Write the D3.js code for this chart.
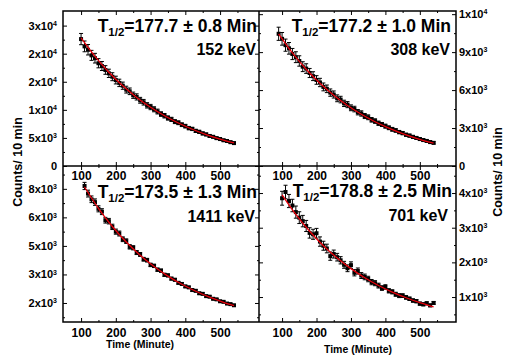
<!DOCTYPE html>
<html>
<head>
<meta charset="utf-8">
<script src="https://cdn.jsdelivr.net/npm/d3@7"></script>
<style>
  body { margin: 0; background: #fff; }
  text { font-family: Arial, "Liberation Sans", sans-serif; font-weight: bold; fill: #000; }
</style>
</head>
<body>
<div id="chart"></div>
<script>
// ---- data ----
// top left: 152 keV
const timesTL = [100,110,120,130,140,150,160,170,180,190,200,210,220,230,240,250,260,270,280,290,300,310,320,330,340,350,360,370,380,390,400,410,420,430,440,450,460,470,480,490,500,510,520,530,540];
const countsTL = [22600,21300,20700,19700,19200,18300,17800,17100,16500,15900,15300,14800,14300,13600,13300,12600,12300,11700,11350,10800,10500,10100,9700,9250,8950,8550,8300,7900,7700,7350,7100,6750,6600,6250,6080,5800,5620,5350,5200,4960,4800,4580,4450,4240,4080];
const errTL = [1000,960,930,890,860,820,800,770,740,710,690,660,640,610,590,560,550,520,500,480,470,450,430,410,400,380,370,350,340,330,320,300,290,280,270,260,250,240,230,220,210,200,200,190,180];
const fitTimesTL = [100,140,180,220,260,300,340,380,420,460,500,540];
const fitTL = [22800,19506,16689,14278,12216,10452,8942,7650,6545,5600,4791,4099];

// top right: 308 keV
const timesTR = [90,100,110,120,130,140,150,160,170,180,190,200,210,220,230,240,250,260,270,280,290,300,310,320,330,340,350,360,370,380,390,400,410,420,430,440,450,460,470,480,490,500,510,520,530,540];
const countsTR = [10450,10050,9550,9300,8850,8600,8300,7850,7700,7350,7100,6800,6600,6250,6100,5800,5650,5350,5250,4950,4850,4600,4500,4250,4150,3950,3850,3650,3550,3380,3280,3150,3020,2900,2810,2680,2600,2470,2400,2300,2220,2130,2050,1980,1890,1830];
const errTR = [520,500,480,460,440,430,410,390,380,360,350,340,330,310,300,290,280,270,260,250,240,230,220,210,210,200,190,180,180,170,160,160,150,150,140,130,130,120,120,120,110,110,100,100,100,90];
const fitTimesTR = [90,130,170,210,250,290,330,370,410,450,490,540];
const fitTR = [10450,8937,7643,6536,5590,4780,4088,3496,2990,2557,2187,1799];

// bottom left: 1411 keV
const timesBL = [110,120,130,140,150,160,170,180,190,200,210,220,230,240,250,260,270,280,290,300,310,320,330,340,350,360,370,380,390,400,410,420,430,440,450,460,470,480,490,500,510,520,530,540];
const countsBL = [7650,7250,6950,6800,6450,6300,5850,5800,5500,5250,5150,4850,4750,4450,4400,4150,4050,3800,3750,3500,3450,3250,3200,2980,2950,2780,2720,2560,2500,2370,2320,2180,2140,2010,1980,1860,1830,1720,1690,1590,1560,1470,1440,1380];
const errBL = [190,180,175,170,160,155,150,145,140,135,130,125,120,115,110,105,100,98,95,90,88,85,82,79,76,73,70,68,66,63,61,59,57,55,53,52,50,48,47,45,44,43,41,40];
const fitTimesBL = [110,150,190,230,270,310,350,390,430,470,510,540];
const fitBL = [7600,6477,5521,4705,4011,3418,2913,2483,2116,1804,1537,1364];

// bottom right: 701 keV
const timesBR = [100,110,120,130,140,150,160,170,180,190,200,210,220,230,240,250,260,270,280,290,300,310,320,330,340,350,360,370,380,390,400,410,420,430,440,450,460,470,480,490,500,510,520,530,540];
const countsBR = [3850,4030,3770,3640,3450,3290,3190,3050,2850,2810,2840,2600,2480,2400,2180,2240,2150,2060,1930,1830,1920,1700,1750,1620,1580,1520,1430,1400,1330,1260,1290,1180,1150,1080,1040,1040,990,950,900,880,810,790,820,760,830];
const errBR = [200,195,190,180,175,170,165,160,150,145,140,135,130,125,120,115,110,105,100,98,95,90,88,85,82,79,76,73,70,67,65,62,60,58,56,54,52,50,48,46,45,43,42,40,38];
const fitTimesBR = [100,140,180,220,260,300,340,380,420,460,500,540];
const fitBR = [3950,3383,2897,2481,2124,1819,1558,1334,1143,979,838,718];

// axis ticks
const xTicks = [100,200,300,400,500];
const xMinor = [150,250,350,450,550];
const yTicksTL = [0,5000,10000,15000,20000,25000];
const yMantTL = ["0","5","1","2","2","3"];
const yExpTL = ["","3","4","4","4","4"];
const yMinorTL = [2500,7500,12500,17500,22500];
const yTicksTR = [0,3000,6000,9000,12000];
const yMantTR = ["0","3","6","9","1"];
const yExpTR = ["","3","3","3","4"];
const yMinorTR = [1500,4500,7500,10500];
const yTicksBL = [1500,3000,4500,6000,7500];
const yMantBL = ["2","3","5","6","8"];
const yExpBL = ["3","3","3","3","3"];
const yMinorBL = [750,2250,3750,5250,6750,8250];
const yTicksBR = [1000,2000,3000,4000];
const yMantBR = ["1","2","3","4"];
const yExpBR = ["3","3","3","3"];
const yMinorBR = [500,1500,2500,3500,4500];

const halfLives = ["177.7 \u00b1 0.8", "177.2 \u00b1 1.0", "173.5 \u00b1 1.3", "178.8 \u00b1 2.5"];
const energies = ["152 keV", "308 keV", "1411 keV", "701 keV"];

// ---- layout ----
const W = 505, H = 362;
const X0 = 63, XM = 259, X1 = 456, Y0 = 11, YM = 166, Y1 = 322;

const svg = d3.select("#chart").append("svg")
  .attr("width", W).attr("height", H);

const panels = [
  { xr: [X0, XM], yr: [YM, Y0], xd: [48, 612], yd: [0, 27600], t: timesTL, n: countsTL, e: errTL, ft: fitTimesTL, fn: fitTL,
    yt: yTicksTL, ym: yMantTL, ye: yExpTL, yMin: yMinorTL, side: "left", xPad: 5, txtX: 257, txtY: 32, txtX2: 256, txtY2: 55 },
  { xr: [XM, X1], yr: [YM, Y0], xd: [33, 605], yd: [0, 12250], t: timesTR, n: countsTR, e: errTR, ft: fitTimesTR, fn: fitTR,
    yt: yTicksTR, ym: yMantTR, ye: yExpTR, yMin: yMinorTR, side: "right", xPad: 5, txtX: 451, txtY: 32, txtX2: 450, txtY2: 55 },
  { xr: [X0, XM], yr: [Y1, YM], xd: [48, 612], yd: [500, 8700], t: timesBL, n: countsBL, e: errBL, ft: fitTimesBL, fn: fitBL,
    yt: yTicksBL, ym: yMantBL, ye: yExpBL, yMin: yMinorBL, side: "left", xPad: 6, txtX: 257, txtY: 198, txtX2: 255, txtY2: 222 },
  { xr: [XM, X1], yr: [Y1, YM], xd: [33, 605], yd: [280, 4780], t: timesBR, n: countsBR, e: errBR, ft: fitTimesBR, fn: fitBR,
    yt: yTicksBR, ym: yMantBR, ye: yExpBR, yMin: yMinorBR, side: "right", xPad: 6, txtX: 452, txtY: 197, txtX2: 448, txtY2: 221 }
];

panels.forEach((p, k) => {
  const x = d3.scaleLinear().domain(p.xd).range(p.xr);
  const y = d3.scaleLinear().domain(p.yd).range(p.yr);
  const g = svg.append("g");

  // axes: bottom (labelled), top (ticks only)
  const bottom = g.append("g").attr("transform", `translate(0,${p.yr[0]})`);
  bottom.call(d3.axisBottom(x).tickValues(xTicks).tickSize(-4).tickPadding(p.xPad));
  bottom.append("g").call(d3.axisBottom(x).tickValues(xMinor).tickSize(-2).tickFormat(""));
  const top = g.append("g").attr("transform", `translate(0,${p.yr[1]})`);
  top.call(d3.axisTop(x).tickValues(xTicks).tickSize(-4).tickFormat(""));
  top.append("g").call(d3.axisTop(x).tickValues(xMinor).tickSize(-2).tickFormat(""));

  // y axes: labelled on the outer side, mirror ticks on the inner side
  const outerX = p.side === "left" ? p.xr[0] : p.xr[1];
  const innerX = p.side === "left" ? p.xr[1] : p.xr[0];
  const axOuter = p.side === "left" ? d3.axisLeft : d3.axisRight;
  const axInner = p.side === "left" ? d3.axisRight : d3.axisLeft;

  const yl = g.append("g").attr("transform", `translate(${outerX},0)`);
  yl.call(axOuter(y).tickValues(p.yt).tickSize(-4).tickPadding(p.side === "left" ? 6 : 3));
  yl.append("g").call(axOuter(y).tickValues(p.yMin).tickSize(-2).tickFormat(""));
  yl.selectAll(".tick text").each(function (d, i) {
    const t = d3.select(this).text(null).attr("font-size", 11);
    t.append("tspan").text(p.ye[i] ? p.ym[i] + "x10" : p.ym[i]);
    if (p.ye[i]) t.append("tspan").attr("dy", "-0.55em").attr("font-size", 7).text(p.ye[i]);
  });
  const yi = g.append("g").attr("transform", `translate(${innerX},0)`);
  yi.call(axInner(y).tickValues(p.yt).tickSize(-4).tickFormat(""));
  yi.append("g").call(axInner(y).tickValues(p.yMin).tickSize(-2).tickFormat(""));

  g.selectAll(".domain").remove();
  g.selectAll(".tick line").attr("stroke", "#000").attr("stroke-width", 1);
  bottom.selectAll(".tick text").attr("font-size", 12);

  // error bars
  const eb = g.append("g").attr("stroke", "#000").attr("stroke-width", 1);
  p.t.forEach((t, i) => {
    const cx = x(t), yHi = y(p.n[i] + p.e[i]), yLo = y(p.n[i] - p.e[i]);
    eb.append("line").attr("x1", cx).attr("x2", cx).attr("y1", yHi).attr("y2", yLo);
    eb.append("line").attr("x1", cx - 2).attr("x2", cx + 2).attr("y1", yHi).attr("y2", yHi);
    eb.append("line").attr("x1", cx - 2).attr("x2", cx + 2).attr("y1", yLo).attr("y2", yLo);
  });

  // points
  g.append("g").selectAll("rect")
    .data(p.t)
    .join("rect")
    .attr("x", (d) => x(d) - 2)
    .attr("y", (d, i) => y(p.n[i]) - 2)
    .attr("width", 4)
    .attr("height", 4)
    .attr("fill", "#000");

  // fit
  const line = d3.line()
    .x((d) => x(d))
    .y((d, i) => y(p.fn[i]))
    .curve(d3.curveMonotoneX);
  g.append("path")
    .attr("d", line(p.ft))
    .attr("fill", "none")
    .attr("stroke", "#e8000b")
    .attr("stroke-width", 1.3);

  // annotation
  const a = g.append("text").attr("x", p.txtX).attr("y", p.txtY)
    .attr("text-anchor", "end").attr("font-size", 17.5);
  a.append("tspan").text("T");
  a.append("tspan").attr("dy", 4).attr("font-size", 11.5).text("1/2");
  a.append("tspan").attr("dy", -4).text("=" + halfLives[k] + " Min");
  g.append("text").attr("x", p.txtX2).attr("y", p.txtY2)
    .attr("text-anchor", "end").attr("font-size", 16).text(energies[k]);
});

// frame
svg.append("rect").attr("x", X0).attr("y", Y0).attr("width", X1 - X0).attr("height", Y1 - Y0)
  .attr("fill", "none").attr("stroke", "#000").attr("stroke-width", 1.5);
svg.append("line").attr("x1", XM).attr("x2", XM).attr("y1", Y0).attr("y2", Y1)
  .attr("stroke", "#000").attr("stroke-width", 1.5);
svg.append("line").attr("x1", X0).attr("x2", X1).attr("y1", YM).attr("y2", YM)
  .attr("stroke", "#000").attr("stroke-width", 1.5);

// axis titles
svg.append("text").attr("transform", "translate(22,162) rotate(-90)")
  .attr("text-anchor", "middle").attr("font-size", 12.5).text("Counts/ 10 min");
svg.append("text").attr("transform", "translate(502,172) rotate(-90)")
  .attr("text-anchor", "middle").attr("font-size", 12.5).text("Counts/ 10 min");
svg.append("text").attr("x", 140).attr("y", 348)
  .attr("text-anchor", "middle").attr("font-size", 10.5).text("Time (Minute)");
svg.append("text").attr("x", 358).attr("y", 353)
  .attr("text-anchor", "middle").attr("font-size", 10.5).text("Time (Minute)");
</script>
</body>
</html>
